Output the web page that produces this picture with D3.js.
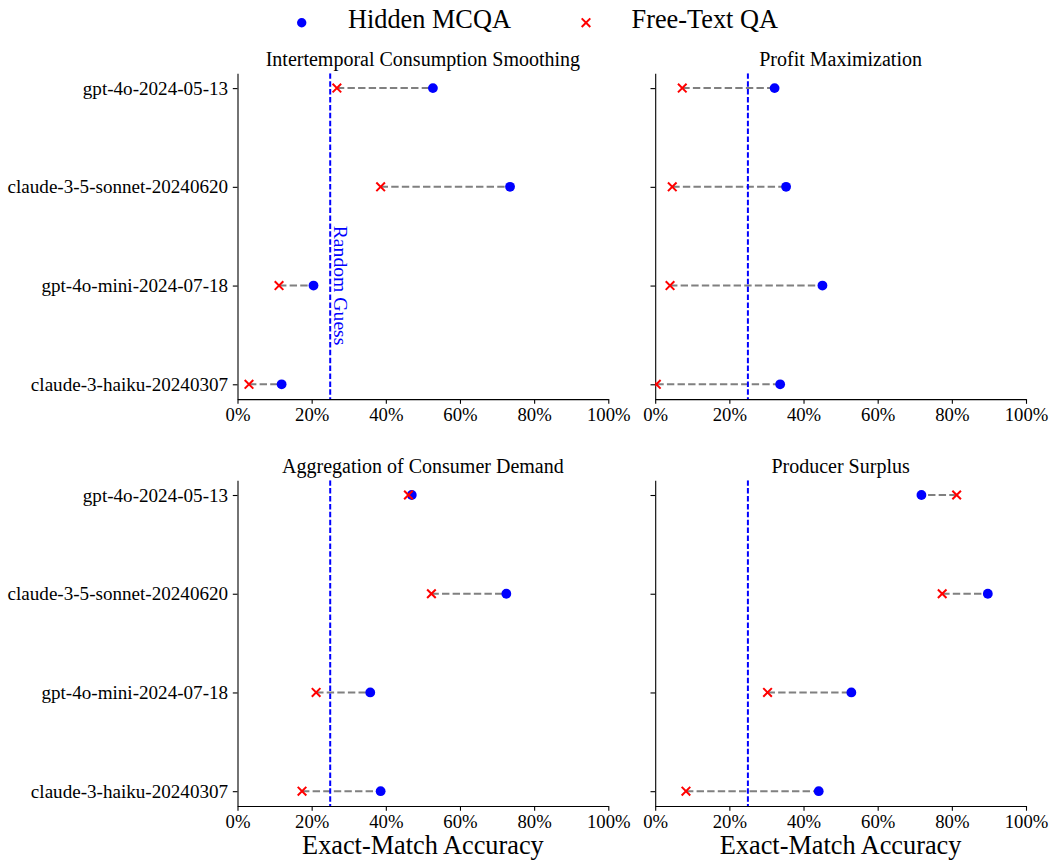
<!DOCTYPE html>
<html>
<head>
<meta charset="utf-8">
<script src="https://cdn.jsdelivr.net/npm/d3@7"></script>
<style>
  html, body { margin: 0; padding: 0; background: #fff; }
  svg { display: block; font-family: "Liberation Serif", "Times New Roman", serif; }
</style>
</head>
<body>
<svg id="chart" width="1050" height="861"></svg>
<script>
// ---------------- data ----------------
const models = ["gpt-4o-2024-05-13", "claude-3-5-sonnet-20240620", "gpt-4o-mini-2024-07-18", "claude-3-haiku-20240307"];
const panelTitles = ["Intertemporal Consumption Smoothing", "Profit Maximization", "Aggregation of Consumer Demand", "Producer Surplus"];

const mcqaIntertemporal = [52.7, 73.5, 20.5, 11.9];
const freeIntertemporal = [26.8, 38.6, 11.2, 3.1];

const mcqaProfit = [32.2, 35.3, 45.1, 33.7];
const freeProfit = [7.3, 4.6, 4.0, 0.3];

const mcqaAggregation = [47.0, 72.5, 35.8, 38.6];
const freeAggregation = [46.1, 52.3, 21.2, 17.4];

const mcqaProducer = [71.8, 89.7, 52.9, 44.1];
const freeProducer = [81.3, 77.4, 30.3, 8.3];

const xTickValues = [0, 20, 40, 60, 80, 100];
const randomGuess = 25;
const seriesNames = ["Hidden MCQA", "Free-Text QA"];

// ---------------- layout ----------------
const svg = d3.select("#chart");
const BLUE = "#0000ff", RED = "#ff0000", GRAY = "#808080";
const FONT = '"Liberation Serif", "Times New Roman", serif';

const panels = [
  { title: panelTitles[0], mcqa: mcqaIntertemporal, free: freeIntertemporal, x0: 237.5, y0: 73.3, labels: true, annot: true, xlabel: false },
  { title: panelTitles[1], mcqa: mcqaProfit, free: freeProfit, x0: 655.2, y0: 73.3, labels: false, annot: false, xlabel: false },
  { title: panelTitles[2], mcqa: mcqaAggregation, free: freeAggregation, x0: 237.5, y0: 480.2, labels: true, annot: false, xlabel: true },
  { title: panelTitles[3], mcqa: mcqaProducer, free: freeProducer, x0: 655.2, y0: 480.2, labels: false, annot: false, xlabel: true }
];
const PW = 370.8, PH = 325.8;

function xMarker(sel, cx, cy, h) {
  sel.append("path")
    .attr("d", `M${cx - h},${cy - h}L${cx + h},${cy + h}M${cx - h},${cy + h}L${cx + h},${cy - h}`)
    .attr("stroke", RED).attr("stroke-width", 2).attr("fill", "none");
}

panels.forEach((p, pi) => {
  const g = svg.append("g");
  const x = d3.scaleLinear().domain([0, 100]).range([p.x0, p.x0 + PW]);
  const y = d3.scalePoint().domain(models).range([p.y0, p.y0 + PH]).padding(0.15);

  const clipId = "clip" + pi;
  svg.append("clipPath").attr("id", clipId)
    .append("rect").attr("x", p.x0).attr("y", p.y0).attr("width", PW).attr("height", PH);

  // axes
  const xAxis = d3.axisBottom(x).tickValues(xTickValues).tickFormat(d => d + "%")
    .tickSize(4.7).tickPadding(4.2).tickSizeOuter(0);
  const gx = g.append("g").attr("transform", `translate(0,${p.y0 + PH})`).call(xAxis);
  gx.attr("font-family", FONT);
  gx.selectAll("text").attr("font-size", "18.7px").attr("fill", "#000");
  gx.selectAll("line, path").attr("stroke", "#000").attr("stroke-width", 1.1);

  const yAxis = d3.axisLeft(y).tickSize(4.7).tickPadding(4.7).tickSizeOuter(0)
    .tickFormat(p.labels ? (d => d) : () => "");
  const gy = g.append("g").attr("transform", `translate(${p.x0},0)`).call(yAxis);
  gy.attr("font-family", FONT);
  gy.selectAll("text").attr("font-size", "19.1px").attr("fill", "#000");
  gy.selectAll("line, path").attr("stroke", "#000").attr("stroke-width", 1.1);

  // title
  g.append("text").attr("x", p.x0 + PW / 2).attr("y", p.y0 - 7)
    .attr("text-anchor", "middle").attr("font-size", "20px").attr("fill", "#000").text(p.title);

  const plot = g.append("g").attr("clip-path", `url(#${clipId})`);

  // connecting dashed lines
  plot.selectAll("line.conn").data(models).enter().append("line")
    .attr("class", "conn")
    .attr("x1", (d, i) => x(p.free[i])).attr("x2", (d, i) => x(p.mcqa[i]))
    .attr("y1", d => y(d)).attr("y2", d => y(d))
    .attr("stroke", GRAY).attr("stroke-width", 2).attr("stroke-dasharray", "7.4,3.2");

  // random guess line
  plot.append("line")
    .attr("x1", x(randomGuess)).attr("x2", x(randomGuess))
    .attr("y1", p.y0).attr("y2", p.y0 + PH)
    .attr("stroke", BLUE).attr("stroke-width", 2).attr("stroke-dasharray", "5.5,2.4");

  // MCQA dots
  plot.selectAll("circle.mcqa").data(models).enter().append("circle")
    .attr("class", "mcqa")
    .attr("cx", (d, i) => x(p.mcqa[i])).attr("cy", d => y(d)).attr("r", 4.9)
    .attr("fill", BLUE);

  // Free-text x markers
  models.forEach((m, i) => xMarker(plot, x(p.free[i]), y(m), 4.3));

  if (p.annot) {
    g.append("text")
      .attr("transform", `translate(${x(randomGuess) + 3.5},${y(models[2])}) rotate(90)`)
      .attr("text-anchor", "middle").attr("font-size", "19.7px").attr("fill", BLUE)
      .text("Random Guess");
  }
  if (p.xlabel) {
    g.append("text").attr("x", p.x0 + PW / 2).attr("y", 853.5)
      .attr("text-anchor", "middle").attr("font-size", "26.3px").attr("fill", "#000")
      .text("Exact-Match Accuracy");
  }
});

// ---------------- legend ----------------
const leg = svg.append("g");
leg.append("circle").attr("cx", 301.7).attr("cy", 22.7).attr("r", 4.7).attr("fill", BLUE);
leg.append("text").attr("x", 348).attr("y", 28.3).attr("font-size", "26.3px").attr("fill", "#000").text(seriesNames[0]);
xMarker(leg, 586, 22.7, 4.3);
leg.append("text").attr("x", 631.5).attr("y", 28.3).attr("font-size", "26.3px").attr("fill", "#000").text(seriesNames[1]);
</script>
</body>
</html>
